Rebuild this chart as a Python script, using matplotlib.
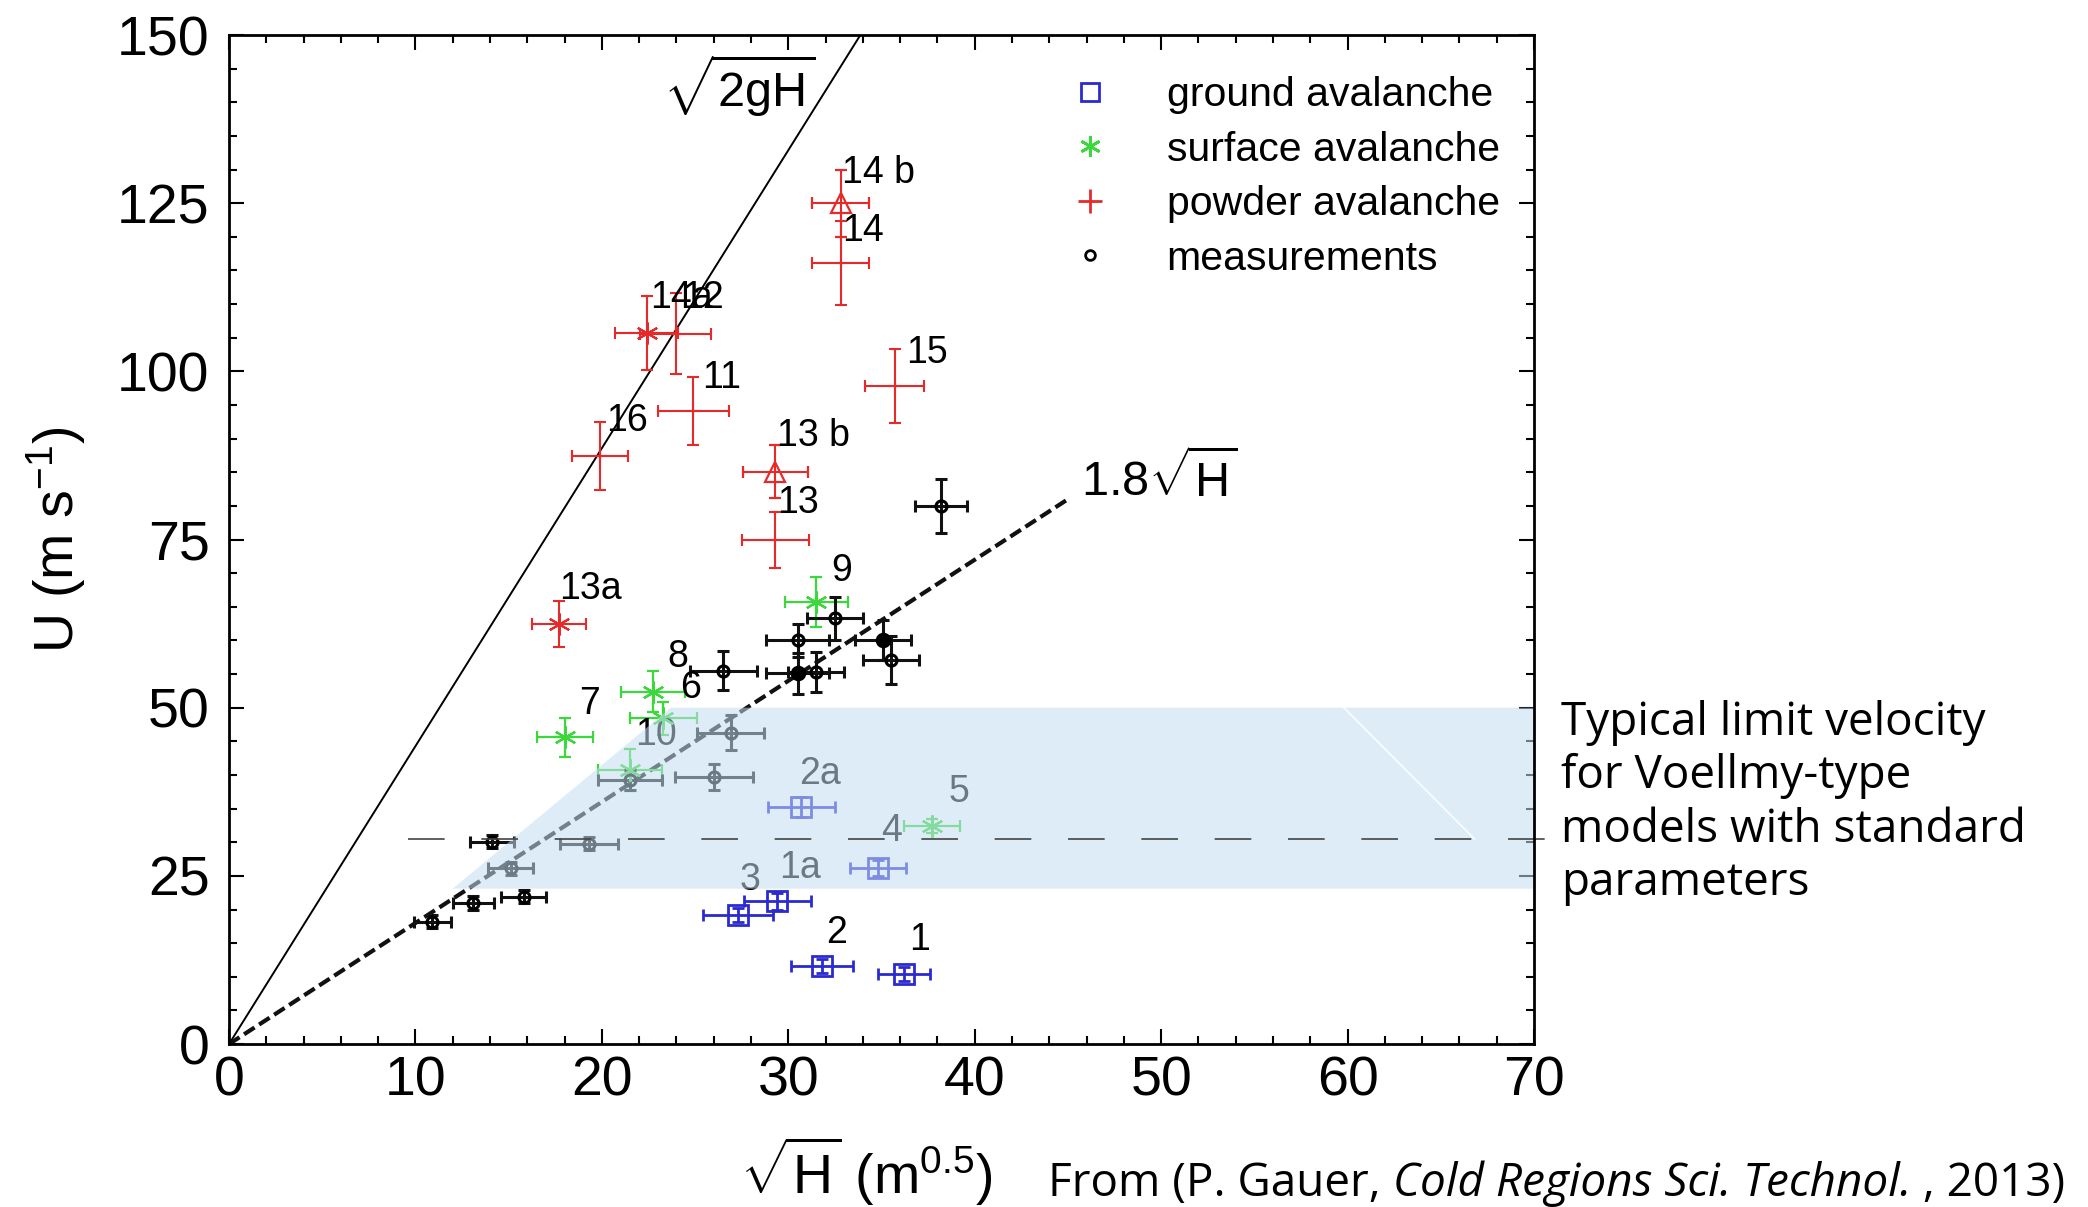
import matplotlib
matplotlib.use("Agg")
import matplotlib.pyplot as plt
from matplotlib.lines import Line2D
from matplotlib.ticker import MultipleLocator
import numpy as np

plt.rcParams['font.family'] = ['Liberation Sans', 'DejaVu Sans']
plt.rcParams['mathtext.fontset'] = 'custom'
plt.rcParams['mathtext.rm'] = 'Liberation Sans'
plt.rcParams['mathtext.it'] = 'Liberation Sans:italic'
plt.rcParams['mathtext.bf'] = 'Liberation Sans:bold'

# ground avalanches (blue squares)
ground_x = [36.2, 31.8, 27.3, 29.4, 34.8, 30.7]
ground_y = [10.4, 11.6, 19.2, 21.2, 26.2, 35.3]
ground_xerr = [1.4, 1.65, 1.9, 1.8, 1.5, 1.8]
ground_yerr = [1.0, 1.0, 1.0, 1.2, 1.2, 1.5]

# surface avalanches (green asterisks)
surface_x = [37.7, 22.75, 18.0, 31.5, 21.5, 23.3]
surface_y = [32.4, 52.4, 45.6, 65.7, 40.7, 48.4]
surface_xerr = [1.5, 1.7, 1.5, 1.7, 1.7, 1.8]
surface_yerr = [1.0, 3.0, 2.9, 3.7, 3.1, 2.5]

# powder avalanches (red): 11, 12, 13, 14, 15, 16
powder_x = [24.9, 23.95, 29.3, 32.8, 35.7, 19.9]
powder_y = [94.1, 105.6, 74.9, 116.1, 97.8, 87.4]
powder_xerr = [1.9, 1.9, 1.8, 1.55, 1.6, 1.5]
powder_yerr = [5.0, 6.0, 4.2, 6.3, 5.5, 5.0]
# powder "b" events (triangles): 13 b, 14 b
powder_b_x = [29.3, 32.8]
powder_b_y = [85.1, 125.0]
powder_b_xerr = [1.75, 1.55]
powder_b_yerr = [4.0, 5.0]
# powder "a" events (asterisks): 13a, 14a
powder_a_x = [17.7, 22.4]
powder_a_y = [62.4, 105.7]
powder_a_xerr = [1.45, 1.7]
powder_a_yerr = [3.4, 5.5]

# measurements (black circles)
meas_x = [38.2, 32.5, 30.5, 35.5, 31.5, 26.5, 26.9, 21.5, 26.0, 19.3, 14.1, 15.1, 15.8, 13.1, 10.9]
meas_y = [80.0, 63.3, 60.0, 57.1, 55.3, 55.5, 46.3, 39.2, 39.7, 29.8, 30.1, 26.1, 21.9, 21.0, 18.2]
meas_xerr = [1.4, 1.5, 1.7, 1.5, 1.5, 1.8, 1.8, 1.7, 2.1, 1.55, 1.2, 1.2, 1.2, 1.1, 1.0]
meas_yerr = [4.0, 3.2, 2.5, 3.6, 3.0, 2.9, 2.6, 1.5, 2.0, 1.0, 1.0, 1.0, 1.0, 1.0, 1.0]
meas_filled_x = [35.1, 30.5]
meas_filled_y = [60.1, 55.1]
meas_filled_xerr = [1.5, 1.7]
meas_filled_yerr = [3.0, 3.1]

# event numbers written next to the points
labels = [("14 b", 32.9, 129.5), ("14", 32.9, 120.8), ("14a", 22.6, 110.9),
          ("12", 24.3, 110.9), ("11", 25.4, 99.0), ("16", 20.2, 92.6),
          ("15", 36.3, 102.8), ("13 b", 29.4, 90.4), ("13", 29.4, 80.4),
          ("13a", 17.7, 67.7), ("9", 32.3, 70.3), ("8", 23.5, 57.5),
          ("6", 24.2, 53.0), ("7", 18.8, 50.6), ("10", 21.8, 46.0),
          ("2a", 30.6, 40.1), ("5", 38.6, 37.5), ("4", 35.0, 31.6),
          ("1a", 29.5, 26.2), ("3", 27.4, 24.4), ("2", 32.0, 16.5),
          ("1", 36.5, 15.4)]

# Voellmy band and limit velocity
band_x = [12.0, 23.7, 70, 70]
band_y = [23.1, 50, 50, 23.1]
limit_u = 30.5

g = 9.81
sqrt_h_free = np.array([0, 150 / np.sqrt(2 * g)])
sqrt_h_fit = np.array([0, 45])

blue = '#2a2ad0'
green = '#3ad83a'
red = '#e62a2a'

fig = plt.figure(figsize=(20.88, 12.07), dpi=100)
ax = fig.add_axes([0.1097, 0.1350, 0.6250, 0.8360])

ax.plot(sqrt_h_free, np.sqrt(2 * g) * sqrt_h_free, color='k', lw=1.4, zorder=2)
ax.plot(sqrt_h_fit, 1.8 * sqrt_h_fit, color='#111111', lw=3.0, dashes=(3, 1.3), zorder=2)

eb = dict(ls='none', capsize=4, zorder=3)
ax.errorbar(ground_x, ground_y, xerr=ground_xerr, yerr=ground_yerr, fmt='s', ms=14,
            mfc='none', mec=blue, mew=2, ecolor=blue, elinewidth=2, capthick=2, **eb)
ax.errorbar(surface_x, surface_y, xerr=surface_xerr, yerr=surface_yerr, marker=(6, 2, 0), ms=16,
            color=green, mew=1.6, ecolor=green, elinewidth=1.6, capthick=1.6, **eb)
ax.errorbar(powder_x, powder_y, xerr=powder_xerr, yerr=powder_yerr, marker='+', ms=10,
            color=red, mew=1.5, ecolor=red, elinewidth=1.5, capthick=1.5, **eb)
ax.errorbar(powder_b_x, powder_b_y, xerr=powder_b_xerr, yerr=powder_b_yerr, marker='^', ms=14,
            mfc='none', mec=red, mew=1.6, ecolor=red, elinewidth=1.5, capthick=1.5, **eb)
ax.errorbar(powder_a_x, powder_a_y, xerr=powder_a_xerr, yerr=powder_a_yerr, marker=(6, 2, 0), ms=16,
            color=red, mew=1.5, ecolor=red, elinewidth=1.5, capthick=1.5, **eb)
ax.errorbar(meas_x, meas_y, xerr=meas_xerr, yerr=meas_yerr, marker='o', ms=8,
            mfc='none', mec='k', mew=2.2, ecolor='#111111', elinewidth=2.2, capthick=2.2, **eb)
ax.errorbar(meas_filled_x, meas_filled_y, xerr=meas_filled_xerr, yerr=meas_filled_yerr, marker='o', ms=9,
            mfc='k', mec='k', mew=2.2, ecolor='#111111', elinewidth=2.2, capthick=2.2, **eb)

for txt, tx, ty in labels:
    ax.text(tx, ty, txt, fontsize=27, ha='left', va='center', zorder=3)

ax.text(23.3, 142.5, r'$\sqrt{\mathrm{2gH}}$', fontsize=35, ha='left', va='center', zorder=3)
ax.text(45.7, 84.0, r'1.8$\sqrt{\mathrm{H}}$', fontsize=35, ha='left', va='center', zorder=3)

# translucent band drawn over the points, so what lies under it looks faded
ax.fill(band_x, band_y, color='#c3def2', alpha=0.55, lw=0, zorder=4)
ax.plot([59.8, 66.8], [50, 30.5], color='white', lw=1.2, alpha=0.9, zorder=4.5)
ax.plot([9.6, 72], [limit_u, limit_u], color='#444444', lw=1.2, dashes=(22, 22),
        zorder=5, clip_on=False)

handles = [
    Line2D([], [], ls='none', marker='s', ms=13, mfc='none', mec=blue, mew=2),
    Line2D([], [], ls='none', marker=(6, 2, 0), ms=15, color=green, mew=2),
    Line2D([], [], ls='none', marker='+', ms=17, color=red, mew=2),
    Line2D([], [], ls='none', marker='o', ms=7, mfc='none', mec='k', mew=2),
]
ax.legend(handles, ['ground avalanche', 'surface avalanche', 'powder avalanche', 'measurements'],
          loc='upper left', bbox_to_anchor=(0.644, 0.959), frameon=False, fontsize=29.5,
          handlelength=1.0, handletextpad=1.37, borderpad=0, borderaxespad=0, labelspacing=0.40)

ax.set_xlim(0, 70)
ax.set_ylim(0, 150)
ax.xaxis.set_major_locator(MultipleLocator(10))
ax.xaxis.set_minor_locator(MultipleLocator(2))
ax.yaxis.set_major_locator(MultipleLocator(25))
ax.yaxis.set_minor_locator(MultipleLocator(5))
ax.tick_params(which='both', direction='in', top=True, right=True, width=1.5)
ax.tick_params(which='major', length=11)
ax.tick_params(which='minor', length=6)
ax.tick_params(axis='x', which='major', labelsize=40, pad=8)
ax.tick_params(axis='y', which='major', labelsize=40, pad=14)
for sp in ax.spines.values():
    sp.set_linewidth(2)
    sp.set_zorder(6)

ax.set_xlabel(r'$\sqrt{\mathrm{H}}$ (m$^{0.5}$)', fontsize=40)
ax.xaxis.set_label_coords(0.488, -0.09)
ax.set_ylabel(r'U (m s$^{\mathrm{-1}}$)', fontsize=40)
ax.yaxis.set_label_coords(-0.108, 0.5)

# multi-line text: the baseline anchor sits on the last line
fig.text(0.7476, 0.2585,
         'Typical limit velocity\nfor Voellmy-type\nmodels with standard\nparameters',
         fontsize=33, family='Open Sans', ha='left', va='baseline', linespacing=1.21)

t1 = fig.text(0.502, 0.0091, 'From (P. Gauer, ', fontsize=33, family='Open Sans',
              ha='left', va='baseline')
t2 = ax.annotate('Cold Regions Sci. Technol.', xy=(1, 0), xycoords=t1, fontsize=33,
                 family='Open Sans', style='italic', ha='left', va='bottom',
                 annotation_clip=False)
ax.annotate(' , 2013)', xy=(1, 0), xycoords=t2, fontsize=33, family='Open Sans',
            ha='left', va='bottom', annotation_clip=False)

fig.savefig('out.png', dpi=100)
